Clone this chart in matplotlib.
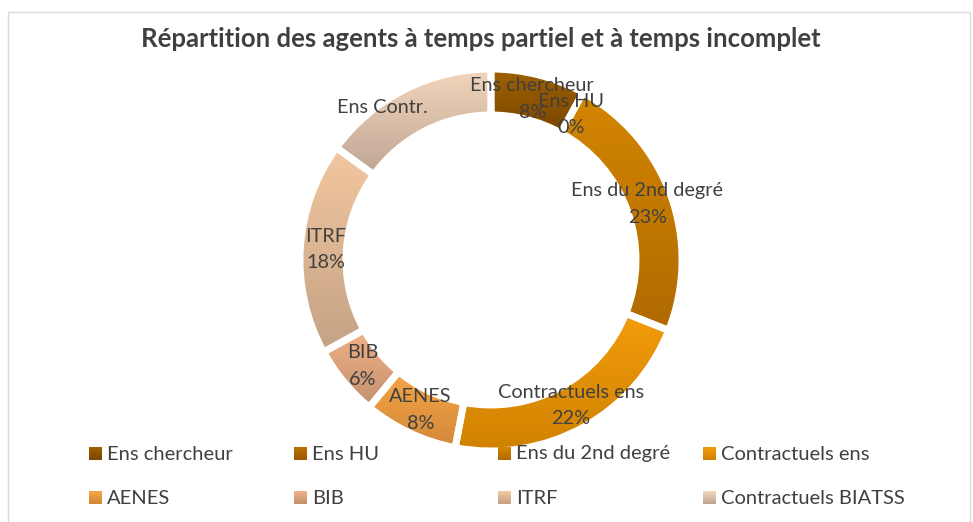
import numpy as np
import matplotlib
matplotlib.use("Agg")
import matplotlib.pyplot as plt
from matplotlib.patches import Rectangle, Shadow
from matplotlib.colors import to_rgb

# données
categories = ["Ens chercheur", "Ens HU", "Ens du 2nd degré", "Contractuels ens",
              "AENES", "BIB", "ITRF", "Contractuels BIATSS"]
values = [8, 0, 23, 22, 8, 6, 18, 15]
slice_labels = ["Ens chercheur", "Ens HU", "Ens du 2nd degré", "Contractuels ens",
                "AENES", "BIB", "ITRF", "Ens Contr."]
show_pct = [True, True, True, True, True, True, True, False]

# dégradés (haut, bas)
grad_top = ["#a06000", "#bd7000", "#d48600", "#f39c0c", "#f6a545", "#f2b285", "#f3c7a0", "#f3d5bc"]
grad_bot = ["#7a4600", "#9a5a00", "#b06a00", "#d08200", "#d2883a", "#c29070", "#c4a284", "#bea694"]
legend_col = ["#8a5200", "#b06800", "#c87a00", "#e89200", "#eea048", "#d8a07a", "#ddb493", "#dcc3ad"]


def gradient(c_top, c_bot, n=64):
    t = np.linspace(0, 1, n)[:, None, None]
    return np.array(to_rgb(c_top)) * (1 - t) + np.array(to_rgb(c_bot)) * t


W, H = 973, 522
fig = plt.figure(figsize=(W / 100, H / 100), dpi=100)
ax = fig.add_axes([0, 0, 1, 1])

txt = "#404040"
font = "Lato"

# cadre
fig.patches.append(Rectangle((8 / W, -0.01), (970 - 8) / W, 1 - 12 / H + 0.01,
                             transform=fig.transFigure, fill=False,
                             edgecolor="#d9d9d9", linewidth=1))

cx, cy, R, ring = 491, H - 260, 191, 46
wedges, _ = ax.pie(values, startangle=90, counterclock=False, center=(cx, cy),
                   radius=R, explode=[3 / R] * len(values), colors=legend_col,
                   wedgeprops=dict(width=ring, edgecolor="white", linewidth=5),
                   frame=True)
ax.set_xlim(0, W)
ax.set_ylim(0, H)
ax.set_aspect("equal")
ax.axis("off")

for i, w in enumerate(wedges):
    if values[i] == 0:
        w.set_visible(False)
        continue
    sh = Shadow(w, 1.0, -1.5, facecolor="#000000", alpha=0.13, linewidth=0,
                edgecolor="none", zorder=1)
    ax.add_patch(sh)
    bb = w.get_path().transformed(w.get_transform()).get_extents()
    im = ax.imshow(gradient(grad_top[i], grad_bot[i]),
                   extent=(bb.x0, bb.x1, bb.y0, bb.y1), origin="upper",
                   aspect="auto", zorder=1.5, interpolation="bilinear")
    im.set_clip_path(w)
    w.set_zorder(2)
    w.set_facecolor("none")

ax.set_xlim(0, W)
ax.set_ylim(0, H)

ax.text(481, H - 39, "Répartition des agents à temps partiel et à temps incomplet",
        ha="center", va="center", fontsize=18.5, fontweight="bold",
        color=txt, family=font)

total = sum(values)
for i, w in enumerate(wedges):
    mid = np.deg2rad((w.theta1 + w.theta2) / 2)
    wx, wy = w.center
    if show_pct[i]:
        r = R - ring / 2 - 2
        x, y = wx + r * np.cos(mid), wy + r * np.sin(mid)
        s = f"{slice_labels[i]}\n{round(100 * values[i] / total)}%"
    else:
        a = mid + np.deg2rad(8.5)
        x, y = wx + (R - 4) * np.cos(a), wy + (R - 4) * np.sin(a)
        s = slice_labels[i]
    ax.text(x, y, s, ha="center", va="center", fontsize=14.3, color=txt,
            family=font, linespacing=1.7, zorder=5)

# légende
leg_x = [89, 294, 498, 703]
leg_y = [H - 454, H - 498]
for i, lab in enumerate(categories):
    x0, y0 = leg_x[i % 4], leg_y[i // 4]
    ax.imshow(gradient(grad_top[i], grad_bot[i], 16),
              extent=(x0, x0 + 13, y0 - 6.5, y0 + 6.5), origin="upper",
              aspect="auto", zorder=3)
    ax.text(x0 + 18, y0, lab, ha="left", va="center", fontsize=14.5,
            color=txt, family=font)

ax.set_xlim(0, W)
ax.set_ylim(0, H)
fig.savefig("out.png", dpi=100, facecolor="white")
